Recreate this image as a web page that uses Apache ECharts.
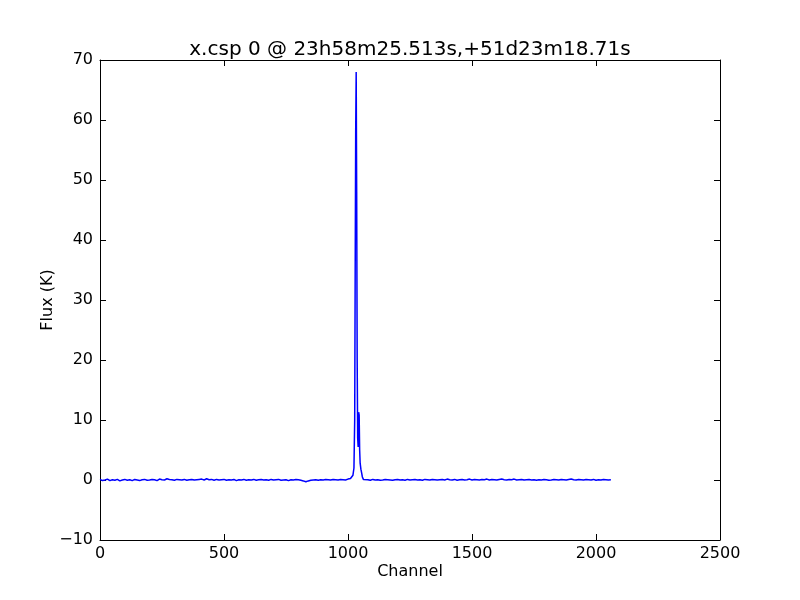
<!DOCTYPE html>
<html>
<head>
<meta charset="utf-8">
<script src="https://cdn.jsdelivr.net/npm/echarts@6/dist/echarts.min.js"></script>
<style>html,body{margin:0;padding:0;background:#fff}#c{width:800px;height:600px}</style>
</head>
<body>
<div id="c"></div>
<script>
const titleText = 'x.csp 0 @ 23h58m25.513s,+51d23m18.71s';
const xLabel = 'Channel';
const yLabel = 'Flux (K)';

// Baseline before the line: channels 0..1010 step 10
const baseStartA = 0, baseStepA = 10;
const valsA = [
  0.1, -0.1, 0.0, 0.15, -0.1, 0.05, -0.05, 0.1, -0.15, 0.0,
  0.1, -0.05, 0.05, -0.1, 0.1, 0.0, -0.1, 0.05, 0.1, -0.05,
  0.0, 0.1, 0.05, -0.1, 0.15, 0.05, 0.0, 0.2, 0.1, 0.05,
  -0.05, 0.1, 0.05, 0.0, 0.1, -0.05, 0.05, 0.1, 0.0, 0.05,
  0.1, 0.15, 0.0, 0.2, 0.05, 0.1, -0.05, 0.1, 0.0, 0.05,
  0.1, -0.05, 0.05, 0.0, 0.1, -0.1, 0.05, 0.0, 0.1, -0.05,
  0.05, 0.0, 0.1, -0.05, 0.05, 0.1, 0.0, 0.05, -0.05, 0.1,
  0.0, 0.05, 0.1, -0.05, 0.0, 0.05, -0.1, 0.05, 0.0, 0.1,
  0.05, -0.05, -0.15, -0.3, -0.15, -0.05, 0.0, 0.05, -0.05, 0.05,
  0.0, 0.1, 0.05, 0.0, 0.1, 0.05, 0.0, 0.1, 0.05, 0.0,
  0.15, 0.25
];

// Line profile
const peakChannels = [1015, 1020, 1024, 1027, 1029, 1031, 1033, 1035, 1037, 1039, 1041, 1043, 1045, 1047, 1049, 1052, 1055, 1058, 1062];
const peakValues   = [0.4, 0.8, 2, 10, 35, 58, 68, 48, 20, 7, 5.5, 11.3, 10.8, 5, 2.8, 1.8, 1.2, 0.5, 0.1];

// Baseline after the line: channels 1070..2060 step 10
const baseStartB = 1070, baseStepB = 10;
const valsB = [
  0.0, 0.05, -0.05, 0.1, 0.0, 0.05, -0.05, 0.0, 0.1, 0.05,
  0.0, -0.05, 0.05, 0.1, 0.0, 0.05, -0.05, 0.1, 0.0, 0.05,
  0.1, 0.0, 0.05, -0.05, 0.1, 0.05, 0.0, 0.1, 0.05, 0.0,
  0.05, 0.1, 0.0, 0.15, 0.05, 0.0, 0.1, -0.05, 0.05, 0.1,
  0.0, 0.05, 0.15, 0.0, 0.1, 0.05, 0.0, 0.1, 0.05, 0.15,
  0.0, 0.1, 0.05, 0.0, 0.1, 0.15, 0.05, 0.0, 0.1, 0.05,
  0.15, 0.0, 0.05, 0.1, 0.0, 0.05, 0.1, 0.0, 0.05, -0.05,
  0.05, 0.0, 0.1, 0.05, -0.05, 0.0, 0.1, 0.05, 0.0, 0.1,
  0.05, 0.0, 0.1, 0.15, 0.05, 0.0, 0.1, 0.05, 0.0, 0.1,
  0.05, 0.0, 0.1, -0.05, 0.05, 0.0, 0.1, 0.05, 0.0, 0.05
];

const xMin = 0, xMax = 2500, xInterval = 500;
const yMin = -10, yMax = 70, yInterval = 10;

const data = [];
valsA.forEach((v, i) => data.push([baseStartA + i * baseStepA, v]));
peakChannels.forEach((c, i) => data.push([c, peakValues[i]]));
valsB.forEach((v, i) => data.push([baseStartB + i * baseStepB, v]));

const font = 'DejaVu Sans';
const tickCommon = { show: true, inside: true, length: 6, lineStyle: { color: '#000', width: 1 } };
const lineCommon = { show: true, onZero: false, lineStyle: { color: '#000', width: 1 } };

const chart = echarts.init(document.getElementById('c'), null, { renderer: 'canvas' });
chart.setOption({
  animation: false,
  backgroundColor: '#fff',
  title: {
    text: titleText,
    left: 405, top: 35, textAlign: 'center',
    textStyle: { fontFamily: font, fontSize: 20, fontWeight: 'normal', color: '#000' }
  },
  grid: { left: 100, right: 80, top: 60, bottom: 60, containLabel: false },
  xAxis: [{
    type: 'value', min: xMin, max: xMax, interval: xInterval,
    name: xLabel, nameLocation: 'middle', nameGap: 24, nameMoveOverlap: false,
    nameTextStyle: { fontFamily: font, fontSize: 16, color: '#000' },
    axisLine: lineCommon, axisTick: tickCommon, splitLine: { show: false },
    axisLabel: { fontFamily: font, fontSize: 16, color: '#000', margin: 6,
      formatter: v => String(v) }
  }, {
    type: 'value', min: xMin, max: xMax, interval: xInterval, position: 'top',
    axisLine: lineCommon, axisTick: tickCommon, splitLine: { show: false },
    axisLabel: { show: false }
  }],
  yAxis: [{
    type: 'value', min: yMin, max: yMax, interval: yInterval,
    name: yLabel, nameLocation: 'middle', nameGap: 44, nameRotate: 90, nameMoveOverlap: false,
    nameTextStyle: { fontFamily: font, fontSize: 16, color: '#000' },
    axisLine: lineCommon, axisTick: tickCommon, splitLine: { show: false },
    axisLabel: { fontFamily: font, fontSize: 16, color: '#000', margin: 7,
      formatter: v => String(v).replace('-', '\u2212') }
  }, {
    type: 'value', min: yMin, max: yMax, interval: yInterval, position: 'right',
    axisLine: lineCommon, axisTick: tickCommon, splitLine: { show: false },
    axisLabel: { show: false }
  }],
  series: [{
    type: 'line', data: data, xAxisIndex: 0, yAxisIndex: 0,
    showSymbol: false, symbol: 'none',
    lineStyle: { color: '#0000ff', width: 1.5 },
    itemStyle: { color: '#0000ff' }
  }]
});
</script>
</body>
</html>
